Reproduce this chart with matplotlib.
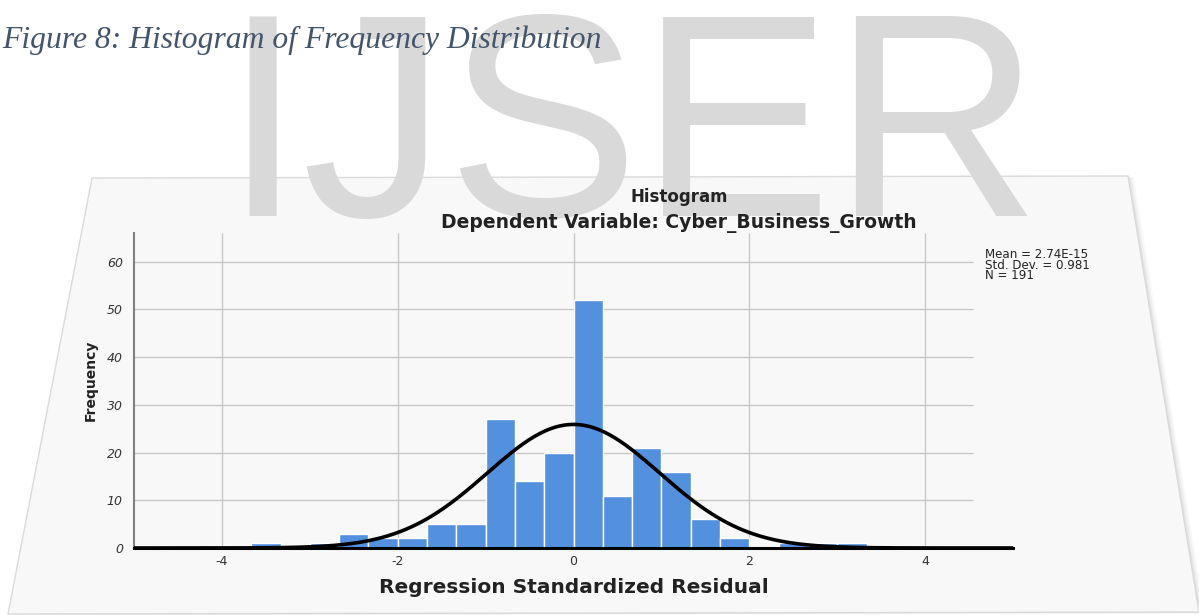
import numpy as np
import matplotlib
matplotlib.use("Agg")
import matplotlib.pyplot as plt
from matplotlib.patches import Polygon

# ---- data ----
bin_left_edges = [-11/3, -10/3, -3.0, -8/3, -7/3, -2.0, -5/3, -4/3, -1.0, -2/3, -1/3,
                  0.0, 1/3, 2/3, 1.0, 4/3, 5/3, 2.0, 7/3, 8/3, 3.0]
counts = [1, 0, 1, 3, 2, 2, 5, 5, 27, 14, 20, 52, 11, 21, 16, 6, 2, 0, 1, 1, 1]
bin_width = 1/3
mean_val = 2.74e-15
std_val = 0.981
n_val = 191
x_ticks = [-4, -2, 0, 2, 4]
y_ticks = [0, 10, 20, 30, 40, 50, 60]

W, H = 1199, 615
fig = plt.figure(figsize=(W/100, H/100), dpi=100)
fig.patch.set_facecolor('white')

def fx(px):
    return px / W

def fy(py):
    return 1 - py / H

# panel (tilted sheet) with soft shadow
panel = [(92, 178), (1128, 176), (1199, 612), (8, 614)]
for off, a in [(6, 0.05), (4, 0.07), (2, 0.10)]:
    sh = Polygon([(fx(x + off), fy(y + off * 0.3)) for x, y in panel], closed=True,
                 transform=fig.transFigure, facecolor='#808080', alpha=a,
                 edgecolor='none', zorder=-3)
    fig.patches.append(sh)
pan = Polygon([(fx(x), fy(y)) for x, y in panel], closed=True, transform=fig.transFigure,
              facecolor='#F8F8F8', edgecolor='#DADADA', linewidth=1.0, zorder=-2)
fig.patches.append(pan)

# watermark
fig.text(fx(222), fy(216), 'IJSER', fontsize=208, family='Liberation Sans',
         color='#D9D9D9', ha='left', va='baseline', zorder=-1)

# caption
fig.text(fx(2), fy(48), 'Figure 8: Histogram of Frequency Distribution',
         family='Liberation Serif', style='italic', fontsize=22.8, color='#44546A',
         ha='left', va='baseline', zorder=1)

# axes
left_px, right_px, top_px, bot_px = 134, 1013, 233, 548
ax = fig.add_axes([fx(left_px), fy(bot_px), fx(right_px) - fx(left_px), (bot_px - top_px) / H])
ax.set_facecolor('none')
ax.set_xlim(-5, 5)
ax.set_ylim(0, 66)

for yv in y_ticks[1:]:
    ax.hlines(yv, -5, 4.55, color='#C8C8C8', linewidth=1.0, zorder=0)
for xv in x_ticks:
    ax.vlines(xv, 0, 66, color='#C8C8C8', linewidth=1.0, zorder=0)

ax.bar(bin_left_edges, counts, width=bin_width, align='edge', color='#5391DF',
       edgecolor='white', linewidth=1.0, zorder=2)

xs = np.linspace(-5, 5, 500)
pdf = np.exp(-0.5 * ((xs - mean_val) / std_val) ** 2) / (std_val * np.sqrt(2 * np.pi))
ax.plot(xs, n_val * bin_width * pdf, color='black', linewidth=2.6, zorder=3,
        solid_capstyle='butt')

for s in ['top', 'right']:
    ax.spines[s].set_visible(False)
ax.spines['left'].set_color('#808080')
ax.spines['left'].set_linewidth(1.5)
ax.spines['bottom'].set_color('black')
ax.spines['bottom'].set_linewidth(2.2)

ax.set_xticks(x_ticks)
ax.set_xticklabels([str(v) for v in x_ticks])
ax.set_yticks(y_ticks)
ax.set_yticklabels([str(v) for v in y_ticks])
ax.tick_params(axis='both', length=0, labelsize=9, colors='#333333')
ax.tick_params(axis='x', pad=5)
ax.tick_params(axis='y', pad=8)
for lab in ax.get_xticklabels():
    lab.set_family('DejaVu Sans')
for lab in ax.get_yticklabels():
    lab.set_family('DejaVu Sans')
    lab.set_style('italic')

ax.set_xlabel('Regression Standardized Residual', family='DejaVu Sans', fontweight='bold',
              fontsize=14.5, color='#222222', labelpad=7)
ax.set_ylabel('Frequency', family='DejaVu Sans', fontweight='bold', fontsize=10,
              color='#222222')
ax.yaxis.set_label_coords((98 - left_px) / (right_px - left_px), (bot_px - 380) / (bot_px - top_px))

fig.text(fx(679), fy(197), 'Histogram', family='DejaVu Sans', fontweight='bold',
         fontsize=12, ha='center', va='center', color='#222222')
fig.text(fx(679), fy(223), 'Dependent Variable: Cyber_Business_Growth',
         family='DejaVu Sans', fontweight='bold', fontsize=13.5, ha='center', va='center',
         color='#222222')

fig.text(fx(985), fy(248), 'Mean = 2.74E-15\nStd. Dev. = 0.981\nN = 191',
         family='DejaVu Sans', fontsize=8.6, ha='left', va='top', linespacing=0.75,
         color='#222222')

fig.savefig('out.png', dpi=100, facecolor='white')
